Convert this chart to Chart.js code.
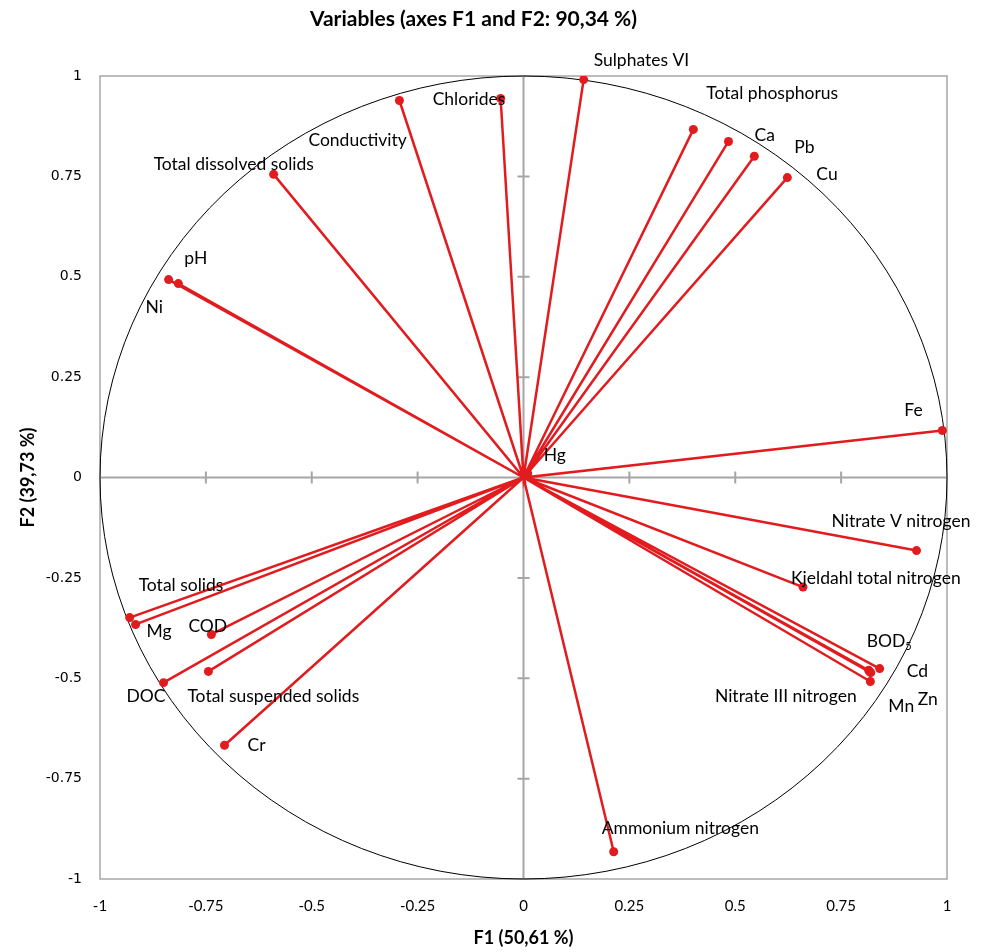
<!DOCTYPE html>
<html>
<head>
<meta charset="utf-8">
<script src="https://cdn.jsdelivr.net/npm/chart.js@4.4.1/dist/chart.umd.min.js"></script>
<style>
  html, body { margin: 0; padding: 0; background: #fff; }
  #wrap { width: 987px; height: 952px; }
</style>
</head>
<body>
<div id="wrap"><canvas id="myChart" width="987" height="952"></canvas></div>
<script>
// variables on the correlation circle
const variables = [
  "Sulphates VI", "Chlorides", "Conductivity", "Total dissolved solids",
  "Total phosphorus", "Ca", "Pb", "Cu", "pH", "Ni", "Fe", "Hg",
  "Nitrate V nitrogen", "Kjeldahl total nitrogen", "BOD5", "Cd",
  "Nitrate III nitrogen", "Mn", "Zn", "Ammonium nitrogen",
  "Total solids", "Mg", "COD", "DOC", "Total suspended solids", "Cr"
];
const f1 = [
  0.142, -0.054, -0.293, -0.590,
  0.401, 0.484, 0.545, 0.623, -0.815, -0.838, 0.989, 0.010,
  0.928, 0.660, 0.815, 0.841,
  0.818, 0.819, 0.820, 0.213,
  -0.930, -0.916, -0.737, -0.850, -0.744, -0.706
];
const f2 = [
  0.991, 0.944, 0.939, 0.755,
  0.867, 0.837, 0.800, 0.747, 0.483, 0.493, 0.117, 0.010,
  -0.182, -0.273, -0.480, -0.476,
  -0.484, -0.508, -0.486, -0.932,
  -0.349, -0.366, -0.391, -0.511, -0.483, -0.667
];
const tickValues = [-1, -0.75, -0.5, -0.25, 0, 0.25, 0.5, 0.75, 1];

// label placement (px offset of text left / middle from the point)
const labelOffsets = {
  "Sulphates VI": [10, -19], "Chlorides": [-68, 1], "Conductivity": [-91, 40],
  "Total dissolved solids": [-120, -10], "Total phosphorus": [13, -36],
  "Ca": [26, -6], "Pb": [40, -9], "Cu": [29, -3], "pH": [6, -25], "Ni": [-23, 28],
  "Fe": [-38, -20], "Hg": [16, -18], "Nitrate V nitrogen": [-85, -29],
  "Kjeldahl total nitrogen": [-12, -9], "BOD5": [-2, -29], "Cd": [27, 3],
  "Nitrate III nitrogen": [-155, 25], "Mn": [18, 25], "Zn": [47, 27],
  "Ammonium nitrogen": [-12, -23], "Total solids": [9, -32], "Mg": [11, 7],
  "COD": [-23, -8], "DOC": [-37, 14], "Total suspended solids": [-21, 25], "Cr": [23, 0]
};

const RED = "rgb(226, 27, 30)";
const GRAY = "#a6a6a6";
const LABEL_FONT = "17.5px Lato";

// star: origin -> point -> origin -> point ...
const starData = [];
variables.forEach((name, i) => {
  starData.push({ x: 0, y: 0, origin: true });
  starData.push({ x: f1[i], y: f2[i], name: name });
});

const framePlugin = {
  id: "frame",
  beforeDatasetsDraw(chart) {
    const { ctx, chartArea: a, scales: { x, y } } = chart;
    const x0 = x.getPixelForValue(0), y0 = y.getPixelForValue(0);
    ctx.save();
    // box
    ctx.strokeStyle = GRAY;
    ctx.lineWidth = 1.5;
    ctx.strokeRect(a.left, a.top, a.right - a.left, a.bottom - a.top);
    // zero axes
    ctx.lineWidth = 2;
    ctx.beginPath();
    ctx.moveTo(a.left, y0); ctx.lineTo(a.right, y0);
    ctx.moveTo(x0, a.top); ctx.lineTo(x0, a.bottom);
    // tick crosses
    tickValues.forEach(v => {
      if (v === 0 || Math.abs(v) === 1) return;
      const px = x.getPixelForValue(v), py = y.getPixelForValue(v);
      ctx.moveTo(px, y0 - 6); ctx.lineTo(px, y0 + 6);
      ctx.moveTo(x0 - 6, py); ctx.lineTo(x0 + 6, py);
    });
    ctx.stroke();
    // unit circle
    const rx = x.getPixelForValue(1) - x0, ry = y0 - y.getPixelForValue(1);
    ctx.strokeStyle = "#000";
    ctx.lineWidth = 1;
    ctx.beginPath();
    ctx.ellipse(x0, y0, rx, ry, 0, 0, Math.PI * 2);
    ctx.stroke();
    ctx.restore();
  },
  afterDatasetsDraw(chart) {
    const { ctx, scales: { x, y } } = chart;
    ctx.save();
    ctx.fillStyle = "#000";
    ctx.textBaseline = "middle";
    ctx.textAlign = "left";
    ctx.font = LABEL_FONT;
    variables.forEach((name, i) => {
      const px = x.getPixelForValue(f1[i]), py = y.getPixelForValue(f2[i]);
      const off = labelOffsets[name] || [6, -12];
      const tx = px + off[0], ty = py + off[1];
      if (name === "BOD5") {
        ctx.fillText("BOD", tx, ty);
        const w = ctx.measureText("BOD").width;
        ctx.font = "11px Lato";
        ctx.fillText("5", tx + w, ty + 5);
        ctx.font = LABEL_FONT;
      } else {
        ctx.fillText(name, tx, ty);
      }
    });
    ctx.restore();
  }
};

const ctx = document.getElementById("myChart").getContext("2d");
new Chart(ctx, {
  type: "scatter",
  data: {
    datasets: [
      {
        label: "Variables",
        data: starData,
        showLine: true,
        borderColor: RED,
        backgroundColor: RED,
        borderWidth: 2.5,
        pointRadius: (c) => (c.raw && c.raw.origin ? 0 : 4.5),
        pointBorderWidth: 0,
        pointBackgroundColor: RED,
      },
    ],
  },
  plugins: [framePlugin],
  options: {
    responsive: false,
    animation: false,
    events: [],
    layout: { padding: { left: 0, right: 40, top: 0, bottom: 0 } },
    plugins: {
      legend: { display: false },
      tooltip: { enabled: false },
      title: {
        display: true,
        text: "Variables (axes F1 and F2: 90,34 %)",
        color: "#000",
        font: { family: "Lato", size: 21, weight: "bold" },
        padding: { top: 6.4, bottom: 44.4 },
      },
    },
    scales: {
      x: {
        type: "linear",
        min: -1,
        max: 1,
        afterFit: (s) => { s.height = 73; },
        afterBuildTicks: (s) => { s.ticks = tickValues.map(v => ({ value: v })); },
        grid: { display: false },
        border: { display: false },
        ticks: {
          color: "#000",
          font: { family: "Lato", size: 15 },
          padding: 10,
          callback: (v) => String(v),
        },
        title: {
          display: true,
          text: "F1 (50,61 %)",
          color: "#000",
          font: { family: "Lato", size: 18, weight: "bold" },
          padding: { top: 0, bottom: 3 },
        },
      },
      y: {
        type: "linear",
        min: -1,
        max: 1,
        afterFit: (s) => { s.width = 100; },
        afterBuildTicks: (s) => { s.ticks = tickValues.map(v => ({ value: v })); },
        grid: { display: false },
        border: { display: false },
        ticks: {
          color: "#000",
          font: { family: "DejaVu Sans", size: 14 },
          padding: 10,
          callback: (v) => String(v),
        },
        title: {
          display: true,
          text: "F2 (39,73 %)",
          color: "#000",
          font: { family: "Lato", size: 18, weight: "bold" },
          padding: { top: 17, bottom: 0 },
        },
      },
    },
  },
});
</script>
</body>
</html>
